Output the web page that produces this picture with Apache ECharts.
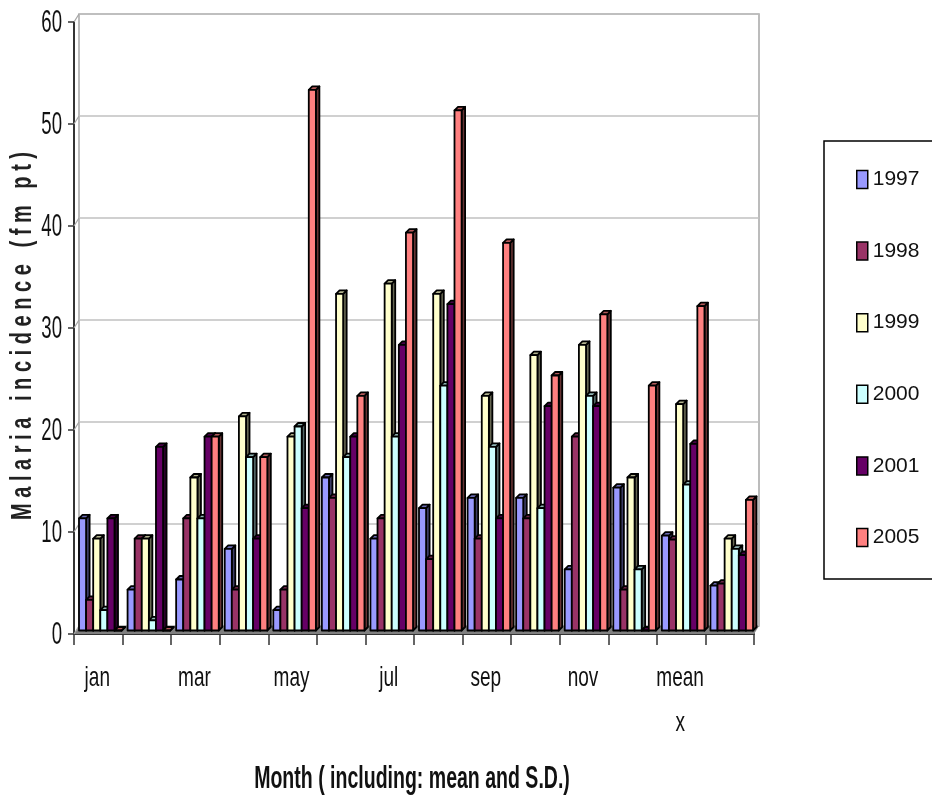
<!DOCTYPE html>
<html>
<head>
<meta charset="utf-8">
<title>Malaria incidence</title>
<script src="https://cdn.jsdelivr.net/npm/echarts@6/dist/echarts.min.js"></script>
<style>
    html, body {margin: 0; padding: 0; background: #fff;}
    #chart {width: 932px; height: 802px;}
</style>
</head>
<body>
<div id="chart"></div>
<script>
    var months = ['jan', 'feb', 'mar', 'apr', 'may', 'jun', 'jul', 'aug', 'sep', 'oct', 'nov', 'dec', 'mean\nx', 'S.D.'];
    var yTicks = [0, 10, 20, 30, 40, 50, 60];
    var years = ['1997', '1998', '1999', '2000', '2001', '2005'];

    var v1997 = [11, 4, 5, 8, 2, 15, 9, 12, 13, 13, 6, 14, 9.3, 4.4];
    var v1998 = [3, 9, 11, 4, 4, 13, 11, 7, 9, 11, 19, 4, 8.9, 4.6];
    var v1999 = [9, 9, 15, 21, 19, 33, 34, 33, 23, 27, 28, 15, 22.2, 9];
    var v2000 = [2, 1, 11, 17, 20, 17, 19, 24, 18, 12, 23, 6, 14.3, 8];
    var v2001 = [11, 18, 19, 9, 12, 19, 28, 32, 11, 22, 22, 0, 18.3, 7.4];
    var v2005 = [0, 0, 19, 17, 53, 23, 39, 51, 38, 25, 31, 24, 31.8, 12.8];

    var allValues = [v1997, v1998, v1999, v2000, v2001, v2005];
    var colors = ['#9999ff', '#993366', '#ffffcc', '#ccffff', '#660066', '#ff8080'];
    var FONT = '"Liberation Sans", Arial, sans-serif';

    var chart = echarts.init(document.getElementById('chart'));

    // 颜色变暗
    function shade(hex, k) {
        var n = parseInt(hex.slice(1), 16);
        var r = Math.round((n >> 16 & 255) * k);
        var g = Math.round((n >> 8 & 255) * k);
        var b = Math.round((n & 255) * k);
        return 'rgb(' + r + ',' + g + ',' + b + ')';
    }

    // 3D 效果的柱子: 正面 + 侧面 + 顶面
    function barRender(seriesIndex) {
        return function (params, api) {
            var band = api.size([1, 0])[0];
            var center = api.coord([api.value(0), api.value(1)]);
            var base = api.coord([api.value(0), 0]);
            var barW = 7.1, dx = 3.5, dy = 3.5;
            var x0 = center[0] - band / 2 + 5 + seriesIndex * barW;
            var x1 = x0 + barW;
            var top = center[1] - 3.5;
            var bottom = base[1] - 3.5;
            var color = colors[seriesIndex];
            var line = {stroke: '#000', lineWidth: 1.8, lineJoin: 'round'};
            return {
                type: 'group',
                children: [
                    {type: 'polygon', shape: {points: [[x1, top], [x1 + dx, top - dy], [x1 + dx, bottom - dy], [x1, bottom]]},
                        style: Object.assign({fill: shade(color, 0.4)}, line)},
                    {type: 'polygon', shape: {points: [[x0, top], [x0 + dx, top - dy], [x1 + dx, top - dy], [x1, top]]},
                        style: Object.assign({fill: shade(color, 0.7)}, line)},
                    {type: 'polygon', shape: {points: [[x0, top], [x1, top], [x1, bottom], [x0, bottom]]},
                        style: Object.assign({fill: color}, line)}
                ]
            };
        };
    }

    // 底面灰色
    function floorRender(params, api) {
        var c = params.coordSys;
        var dx = 5, dy = 8;
        var b = c.y + c.height;
        return {
            type: 'polygon',
            shape: {points: [[c.x, b], [c.x + c.width, b], [c.x + c.width + dx, b - dy], [c.x + dx, b - dy]]},
            style: {fill: '#808080'}
        };
    }

    // Y轴刻度文字(窄字体, 用 scaleX 压缩), 以及刻度到后墙的短斜线
    function yLabelRender(params, api) {
        var c = params.coordSys;
        var p = api.coord([0, api.value(1)]);
        return {
            type: 'group',
            children: [
                {type: 'line', shape: {x1: c.x, y1: p[1], x2: c.x + 5, y2: p[1] - 8},
                    style: {stroke: '#a6a6a6', lineWidth: 1.2}},
                {type: 'text', x: c.x - 12, y: p[1] + 1, scaleX: 0.6,
                    style: {text: String(api.value(1)), font: '31px ' + FONT, fill: '#111',
                        align: 'right', verticalAlign: 'middle'}}
            ]
        };
    }

    // X轴文字, 隔一个显示
    function xLabelRender(params, api) {
        var c = params.coordSys;
        var p = api.coord([api.value(0), 0]);
        return {
            type: 'text', x: p[0] - 1, y: c.y + c.height + 22, scaleX: 0.68,
            style: {text: months[api.value(0)], font: '28px ' + FONT, lineHeight: 45, fill: '#111',
                align: 'center', verticalAlign: 'top'}
        };
    }

    var series = [{
        type: 'custom',
        silent: true,
        z: 1,
        data: [[0, 0]],
        encode: {x: 0, y: 1},
        renderItem: floorRender
    }, {
        type: 'custom',
        silent: true,
        clip: false,
        z: 1,
        data: yTicks.map(function (v) { return [0, v]; }),
        encode: {x: 0, y: 1},
        renderItem: yLabelRender
    }, {
        type: 'custom',
        silent: true,
        clip: false,
        z: 1,
        data: months.map(function (m, j) { return [j, 0]; }).filter(function (d) { return d[0] % 2 === 0; }),
        encode: {x: 0, y: 1},
        renderItem: xLabelRender
    }];
    years.forEach(function (year, i) {
        series.push({
            name: year,
            type: 'custom',
            z: 2 + i,
            color: colors[i],
            encode: {x: 0, y: 1},
            data: allValues[i].map(function (v, j) { return [j, v]; }),
            renderItem: barRender(i)
        });
    });

    var option = {
        backgroundColor: '#fff',
        animation: false,
        textStyle: {fontFamily: FONT},
        legend: {
            orient: 'vertical',
            left: 824,
            top: 141,
            padding: [28, 20, 31, 32],
            itemWidth: 11,
            itemHeight: 18,
            itemGap: 50.6,
            borderColor: '#000',
            borderWidth: 1.5,
            icon: 'rect',
            data: years,
            itemStyle: {borderColor: '#000', borderWidth: 1.5},
            textStyle: {fontSize: 21, color: '#111', fontFamily: FONT}
        },
        graphic: [
            {
                type: 'text', x: 412, y: 779, scaleX: 0.63, z: 20,
                style: {text: 'Month ( including: mean and S.D.)', font: 'bold 31px ' + FONT, fill: '#111',
                    align: 'center', verticalAlign: 'middle'}
            },
            {
                type: 'text', x: 23, y: 336, rotation: Math.PI / 2, scaleX: 0.69, z: 20,
                style: {text: 'M a l a r i a   i n c i d e n c e   ( f m   p t )', font: 'bold 29px ' + FONT, fill: '#222',
                    align: 'center', verticalAlign: 'middle'}
            }
        ],
        grid: [
            {left: 74, top: 22, width: 680, height: 612, outerBoundsMode: 'none'},
            {left: 79, top: 14, width: 680, height: 612, outerBoundsMode: 'none', show: true, borderColor: '#a6a6a6', borderWidth: 1.5}
        ],
        xAxis: [
            {
                type: 'category',
                gridIndex: 0,
                data: months,
                axisLine: {lineStyle: {color: '#333', width: 2}},
                axisTick: {show: true, alignWithLabel: false, interval: 0, length: 11, lineStyle: {color: '#333', width: 1.5}},
                axisLabel: {show: false}
            },
            {
                type: 'category',
                gridIndex: 1,
                data: months,
                show: false
            }
        ],
        yAxis: [
            {
                type: 'value',
                gridIndex: 0,
                min: 0,
                max: 60,
                interval: 10,
                axisLine: {show: true, onZero: false, lineStyle: {color: '#333', width: 2}},
                axisTick: {show: true, length: 6, lineStyle: {color: '#333', width: 1.5}},
                splitLine: {show: false},
                axisLabel: {show: false}
            },
            {
                type: 'value',
                gridIndex: 1,
                min: 0,
                max: 60,
                interval: 10,
                axisLine: {show: false},
                axisTick: {show: false},
                axisLabel: {show: false},
                splitLine: {show: true, lineStyle: {color: '#c0c0c0', width: 1.5}}
            }
        ],
        series: series
    };
    chart.setOption(option);
</script>
</body>
</html>
